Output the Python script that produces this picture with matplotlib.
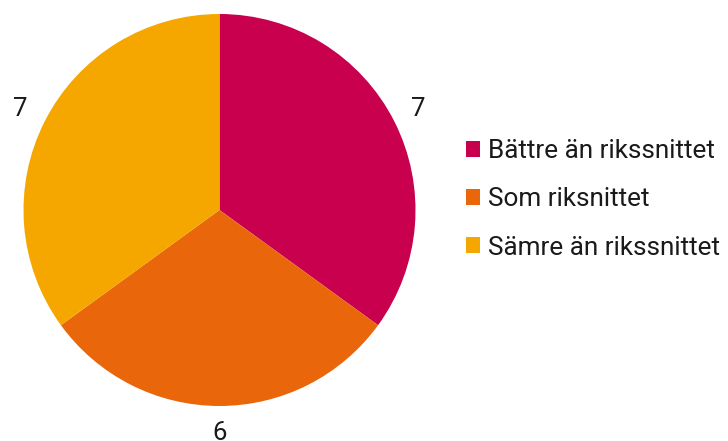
import matplotlib
matplotlib.use('Agg')
import matplotlib.pyplot as plt
from matplotlib.patches import Patch

plt.rcParams['font.family'] = ['Roboto', 'DejaVu Sans']

# data
categories = ['Bättre än rikssnittet', 'Som riksnittet', 'Sämre än rikssnittet']
values = [7, 6, 7]
colors = ['#C8004E', '#E9660A', '#F5A700']

fig = plt.figure(figsize=(7.28, 4.41), dpi=100)
# pie axes: center ~ (219.5, 210) px, radius ~196 px
ax = fig.add_axes([(219.5 - 196) / 728, (441 - 210 - 196) / 441, 392 / 728, 392 / 441])
wedges, texts = ax.pie(values, colors=colors, startangle=90, counterclock=False,
                       labels=[str(v) for v in values], labeldistance=1.14,
                       textprops={'fontsize': 18.5, 'color': '#1a1a1a'},
                       wedgeprops={'linewidth': 0})
for t in texts:
    t.set_horizontalalignment('center')
    t.set_verticalalignment('center')
ax.set_aspect('equal')
ax.set_xlim(-1, 1)
ax.set_ylim(-1, 1)

handles = [Patch(facecolor=c, edgecolor='none') for c in colors]
fig.legend(handles, categories, loc='upper left', bbox_to_anchor=(466 / 728, 1 - 139 / 441),
           frameon=False, fontsize=18.8, handlelength=0.55, handleheight=0.55,
           handletextpad=0.3, labelspacing=0.93, borderaxespad=0, borderpad=0,
           labelcolor='#1a1a1a')

fig.savefig('out.png', dpi=100)
